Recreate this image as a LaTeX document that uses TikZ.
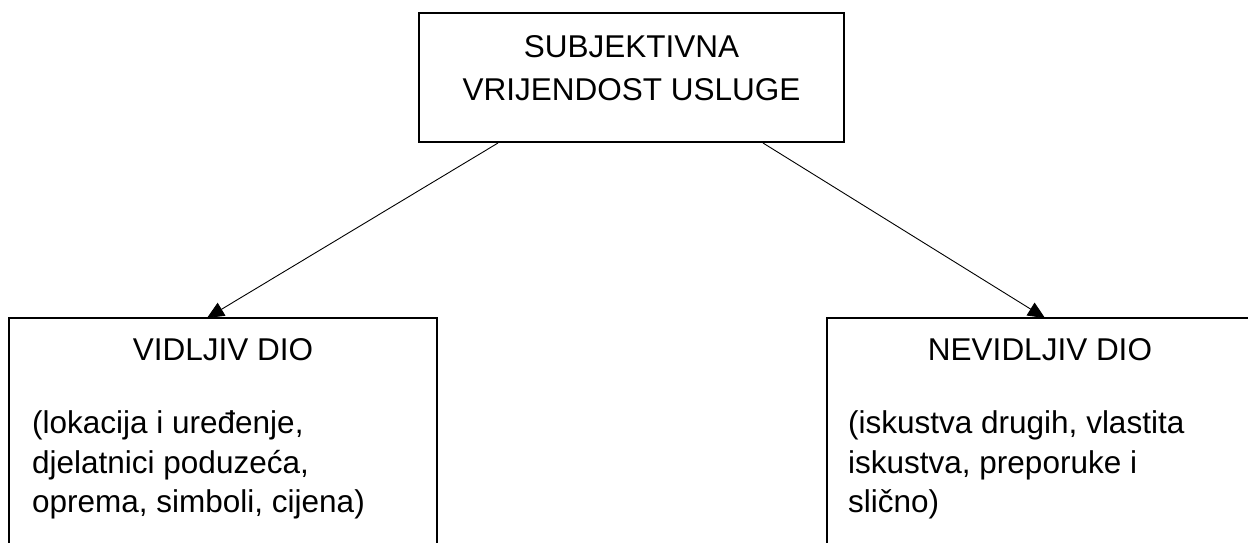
\documentclass[tikz,border=0pt]{standalone}
\usepackage{fontspec}
\setmainfont{Liberation Sans}
\usetikzlibrary{arrows.meta}
\begin{document}
\begin{tikzpicture}[x=1pt,y=-1pt,
  box/.style={draw=black,line width=2pt,rectangle,inner sep=0pt},
  txt/.style={inner sep=0pt,anchor=base,font=\fontsize{31.5}{38}\selectfont},
  ltxt/.style={inner sep=0pt,anchor=base west,font=\fontsize{31.5}{38}\selectfont},
  conn/.style={line width=0.9pt,-{Triangle[length=17pt,width=15pt]}}]
\useasboundingbox (0,0) rectangle (1248,542);
\clip (0,0) rectangle (1248,542);
\fill[white] (0,0) rectangle (1248,542);
% boxes
\node[box,minimum width=425pt,minimum height=129pt] (top) at (631.5,77.5) {};
\node[box,minimum width=428pt,minimum height=250pt] (left) at (223,443) {};
\node[box,minimum width=426pt,minimum height=250pt] (right) at (1040,443) {};
% top text
\node[txt] (t1) at (631.5,57) {SUBJEKTIVNA};
\node[txt] (t2) at (631.5,100) {VRIJENDOST USLUGE};
% left text
\node[txt] (l0) at (223,360) {VIDLJIV DIO};
\node[ltxt] (l1) at (32,433) {(lokacija i uređenje,};
\node[ltxt] (l2) at (32,473) {djelatnici poduzeća,};
\node[ltxt] (l3) at (32,512) {oprema, simboli, cijena)};
% right text
\node[txt] (r0) at (1040,360) {NEVIDLJIV DIO};
\node[ltxt] (r1) at (848,433) {(iskustva drugih, vlastita};
\node[ltxt] (r2) at (848,473) {iskustva, preporuke i};
\node[ltxt] (r3) at (848,512) {slično)};
% connectors
\draw[conn] ([xshift=-133.5pt]top.south) -- ([xshift=-16pt,yshift=-1pt]left.north);
\draw[conn] ([xshift=131.5pt]top.south) -- ([xshift=5pt,yshift=-1pt]right.north);
\end{tikzpicture}
\end{document}
